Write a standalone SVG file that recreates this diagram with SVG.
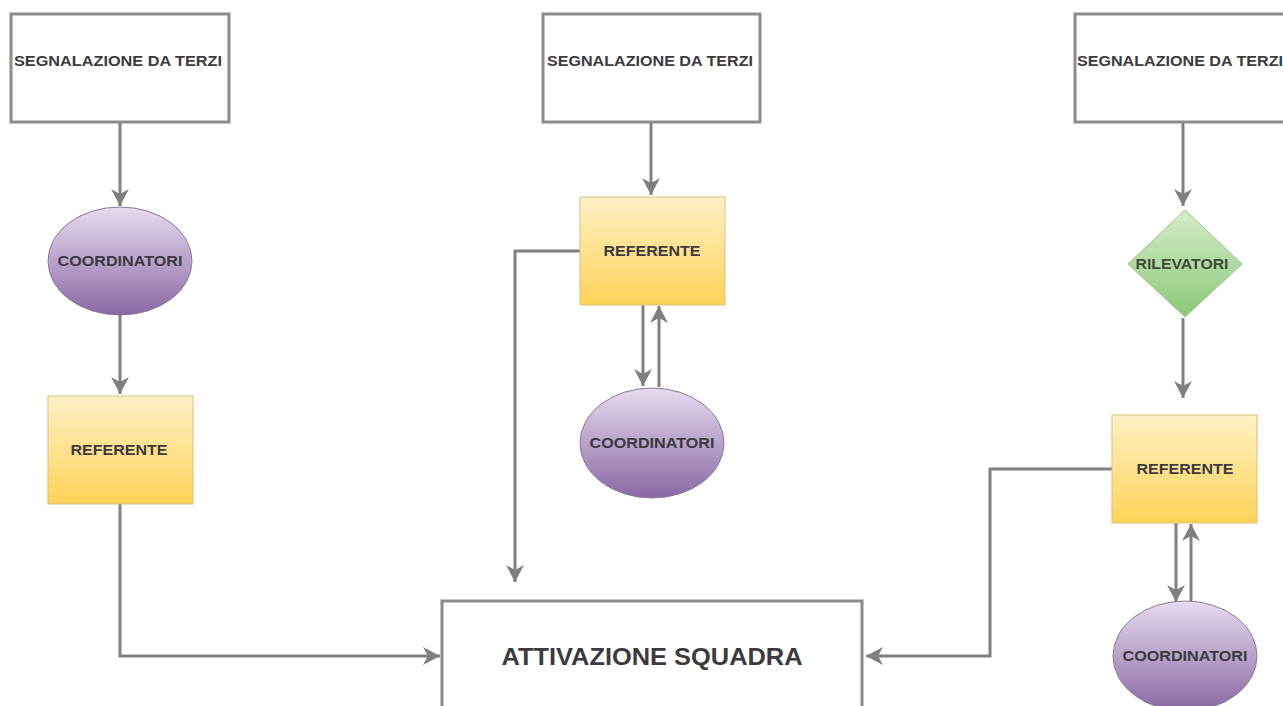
<svg xmlns="http://www.w3.org/2000/svg" width="1283" height="706" viewBox="0 0 1283 706">
<defs>
<linearGradient id="gPurple" x1="0" y1="0" x2="0" y2="1">
<stop offset="0" stop-color="#e6dcef"/><stop offset="1" stop-color="#8a68a4"/>
</linearGradient>
<linearGradient id="gYellow" x1="0" y1="0" x2="0" y2="1">
<stop offset="0" stop-color="#fff1c6"/><stop offset="1" stop-color="#fdd257"/>
</linearGradient>
<linearGradient id="gGreen" x1="0" y1="0" x2="0" y2="1">
<stop offset="0" stop-color="#d3ecc6"/><stop offset="1" stop-color="#8cc77a"/>
</linearGradient>
<marker id="arr" markerWidth="20" markerHeight="20" refX="17" refY="9" orient="auto" markerUnits="userSpaceOnUse">
<path d="M0,0 L17,9 L0,18 L5,9 Z" fill="#7f7f7f"/>
</marker>
</defs>
<style>
.box{fill:#fff;stroke:#8c8c8c;stroke-width:3}
.ell{fill:url(#gPurple);stroke:#8a7a9a;stroke-width:1}
.ref{fill:url(#gYellow);stroke:#d9c27a;stroke-width:1}
.dia{fill:url(#gGreen);stroke:#9cc98e;stroke-width:1}
.c{fill:none;stroke:#808080;stroke-width:3;marker-end:url(#arr)}
text{font-family:"Liberation Sans",Arial,sans-serif;font-weight:bold;fill:#3c3a3e;text-anchor:middle}
.s{font-size:14px}
.big{font-size:24px}
</style>
<rect width="1283" height="706" fill="#fff"/>
<g id="connectors">
<path class="c" d="M120,122 V206"/>
<path class="c" d="M120,315 V394"/>
<path class="c" d="M120,504 V656 H440"/>
<path class="c" d="M651,122 V195"/>
<path class="c" d="M580,251 H515 V582"/>
<path class="c" d="M643,305 V386"/>
<path class="c" d="M659,387 V306"/>
<path class="c" d="M1183,122 V206"/>
<path class="c" d="M1183,318 V398"/>
<path class="c" d="M1112,469 H990 V656 H866"/>
<path class="c" d="M1176,523 V602"/>
<path class="c" d="M1191,602 V524"/>
</g>
<g id="seg1"><rect class="box" x="11" y="14" width="218" height="108"/><text class="s" x="118" y="66" textLength="208" lengthAdjust="spacingAndGlyphs">SEGNALAZIONE DA TERZI</text></g>
<g id="coord1"><ellipse class="ell" cx="120" cy="261" rx="72" ry="54"/><text class="s" x="120" y="266" textLength="125" lengthAdjust="spacingAndGlyphs">COORDINATORI</text></g>
<g id="ref1"><rect class="ref" x="48" y="396" width="145" height="108"/><text class="s" x="119" y="455" textLength="97" lengthAdjust="spacingAndGlyphs">REFERENTE</text></g>
<g id="seg2"><rect class="box" x="543" y="14" width="217" height="108"/><text class="s" x="650" y="66" textLength="206" lengthAdjust="spacingAndGlyphs">SEGNALAZIONE DA TERZI</text></g>
<g id="ref2"><rect class="ref" x="580" y="197" width="145" height="108"/><text class="s" x="652" y="256" textLength="97" lengthAdjust="spacingAndGlyphs">REFERENTE</text></g>
<g id="coord2"><ellipse class="ell" cx="652" cy="443" rx="72" ry="55"/><text class="s" x="652" y="448" textLength="125" lengthAdjust="spacingAndGlyphs">COORDINATORI</text></g>
<g id="seg3"><rect class="box" x="1075" y="14" width="220" height="108"/><text class="s" x="1180" y="66" textLength="206" lengthAdjust="spacingAndGlyphs">SEGNALAZIONE DA TERZI</text></g>
<g id="ril"><polygon class="dia" points="1185,210 1242,264 1185,317 1128,264"/><text class="s" x="1182" y="269" textLength="93" lengthAdjust="spacingAndGlyphs" style="fill:#3f4a3a">RILEVATORI</text></g>
<g id="ref3"><rect class="ref" x="1112" y="415" width="145" height="108"/><text class="s" x="1185" y="474" textLength="97" lengthAdjust="spacingAndGlyphs">REFERENTE</text></g>
<g id="coord3"><ellipse class="ell" cx="1185" cy="656" rx="72" ry="55"/><text class="s" x="1185" y="661" textLength="125" lengthAdjust="spacingAndGlyphs">COORDINATORI</text></g>
<g id="att"><rect class="box" x="442" y="601" width="420" height="120"/><text class="big" x="652" y="665" textLength="301" lengthAdjust="spacingAndGlyphs">ATTIVAZIONE SQUADRA</text></g>
</svg>
